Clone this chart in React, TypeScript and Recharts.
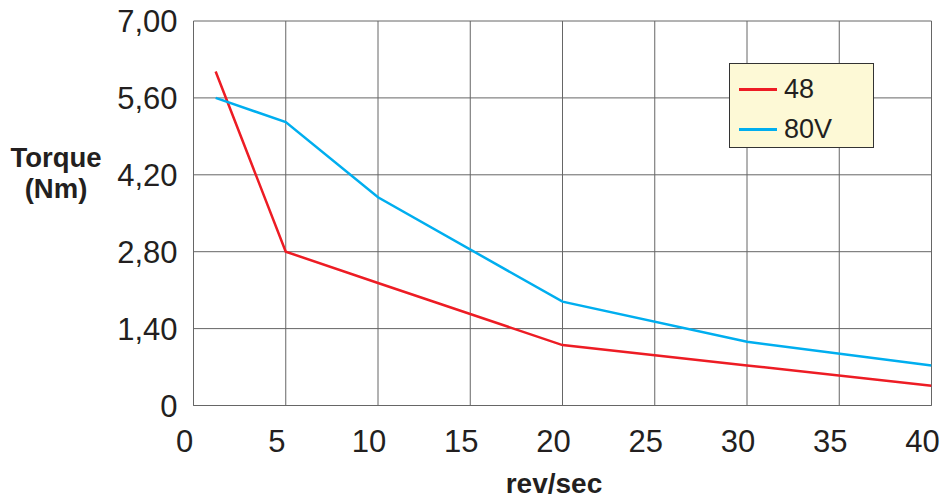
import React from "react";
import { LineChart, Line, XAxis, YAxis, CartesianGrid, Legend, Label } from "recharts";

const speeds48 = [1.2, 5, 10, 20, 30, 40];
const torque48 = [6.08, 2.8, 2.23, 1.1, 0.73, 0.36];
const speeds80 = [1.2, 5, 10, 20, 30, 40];
const torque80 = [5.6, 5.16, 3.79, 1.89, 1.16, 0.73];

const xTicks = [0, 5, 10, 15, 20, 25, 30, 35, 40];
const yTicks = [0, 1.4, 2.8, 4.2, 5.6, 7];
const yTickLabels = ["0", "1,40", "2,80", "4,20", "5,60", "7,00"];

const seriesNames = ["48", "80V"];
const seriesColors = ["#ED1C24", "#00AEEF"];

const data48 = speeds48.map((x, i) => ({ x, y: torque48[i] }));
const data80 = speeds80.map((x, i) => ({ x, y: torque80[i] }));

const FONT = "'Liberation Sans', Arial, Helvetica, sans-serif";
const TEXT = "#231F20";
const GRID = "#666666";

const LegendBox = () => (
  <div
    style={{
      width: 145,
      height: 85,
      boxSizing: "border-box",
      background: "#FDF9D6",
      border: "1px solid #333",
      fontFamily: FONT,
      fontSize: 27,
      color: TEXT,
      position: "relative",
    }}
  >
    {seriesNames.map((n, i) => (
      <div
        key={n}
        style={{ position: "absolute", left: 9, top: 10 + i * 40, display: "flex", alignItems: "center", height: 30 }}
      >
        <div style={{ width: 38, height: 3, background: seriesColors[i] }} />
        <span style={{ marginLeft: 7, lineHeight: "30px" }}>{n}</span>
      </div>
    ))}
  </div>
);

const YLabel = (props: any) => {
  const cx = 56;
  return (
    <text fontFamily={FONT} fontWeight="bold" fontSize={27.5} fill={TEXT} textAnchor="middle">
      <tspan x={cx} y={167}>Torque</tspan>
      <tspan x={cx} y={198}>(Nm)</tspan>
    </text>
  );
};

const XLabel = (props: any) => (
  <text x={554} y={493} fontFamily={FONT} fontWeight="bold" fontSize={28} fill={TEXT} textAnchor="middle">
    rev/sec
  </text>
);

export default function App() {
  return (
    <div style={{ position: "absolute", left: 0, top: 0, width: 942, height: 499, background: "#fff" }}>
      <LineChart width={942} height={499} margin={{ top: 21, right: 10.5, left: 0, bottom: 0 }}>
        <CartesianGrid stroke={GRID} strokeWidth={1} horizontal vertical />
        <XAxis
          type="number"
          dataKey="x"
          domain={[0, 40]}
          ticks={xTicks}
          interval={0}
          height={93.5}
          axisLine={{ stroke: GRID }}
          tickLine={false}
          tickSize={0}
          tickMargin={24}
          tick={{ fontFamily: FONT, fontSize: 31, fill: TEXT, dx: -9 }}
          allowDataOverflow
        >
          <Label content={<XLabel />} />
        </XAxis>
        <YAxis
          type="number"
          dataKey="y"
          domain={[0, 7]}
          ticks={yTicks}
          interval={0}
          width={193.5}
          axisLine={{ stroke: GRID }}
          tickLine={false}
          tickSize={0}
          tickMargin={16}
          tickFormatter={(v: number) => yTickLabels[yTicks.indexOf(v)] ?? String(v)}
          tick={{ fontFamily: FONT, fontSize: 31, fill: TEXT }}
          allowDataOverflow
        >
          <Label content={<YLabel />} />
        </YAxis>
        <Legend
          layout="vertical"
          align="center"
          verticalAlign="middle"
          content={<LegendBox />}
          wrapperStyle={{ position: "absolute", left: 729, top: 63, width: 145, height: 85, margin: 0 }}
        />
        <Line
          data={data48}
          dataKey="y"
          name={seriesNames[0]}
          stroke={seriesColors[0]}
          strokeWidth={2.5}
          dot={false}
          activeDot={false}
          type="linear"
          isAnimationActive={false}
        />
        <Line
          data={data80}
          dataKey="y"
          name={seriesNames[1]}
          stroke={seriesColors[1]}
          strokeWidth={2.5}
          dot={false}
          activeDot={false}
          type="linear"
          isAnimationActive={false}
        />
      </LineChart>
    </div>
  );
}
